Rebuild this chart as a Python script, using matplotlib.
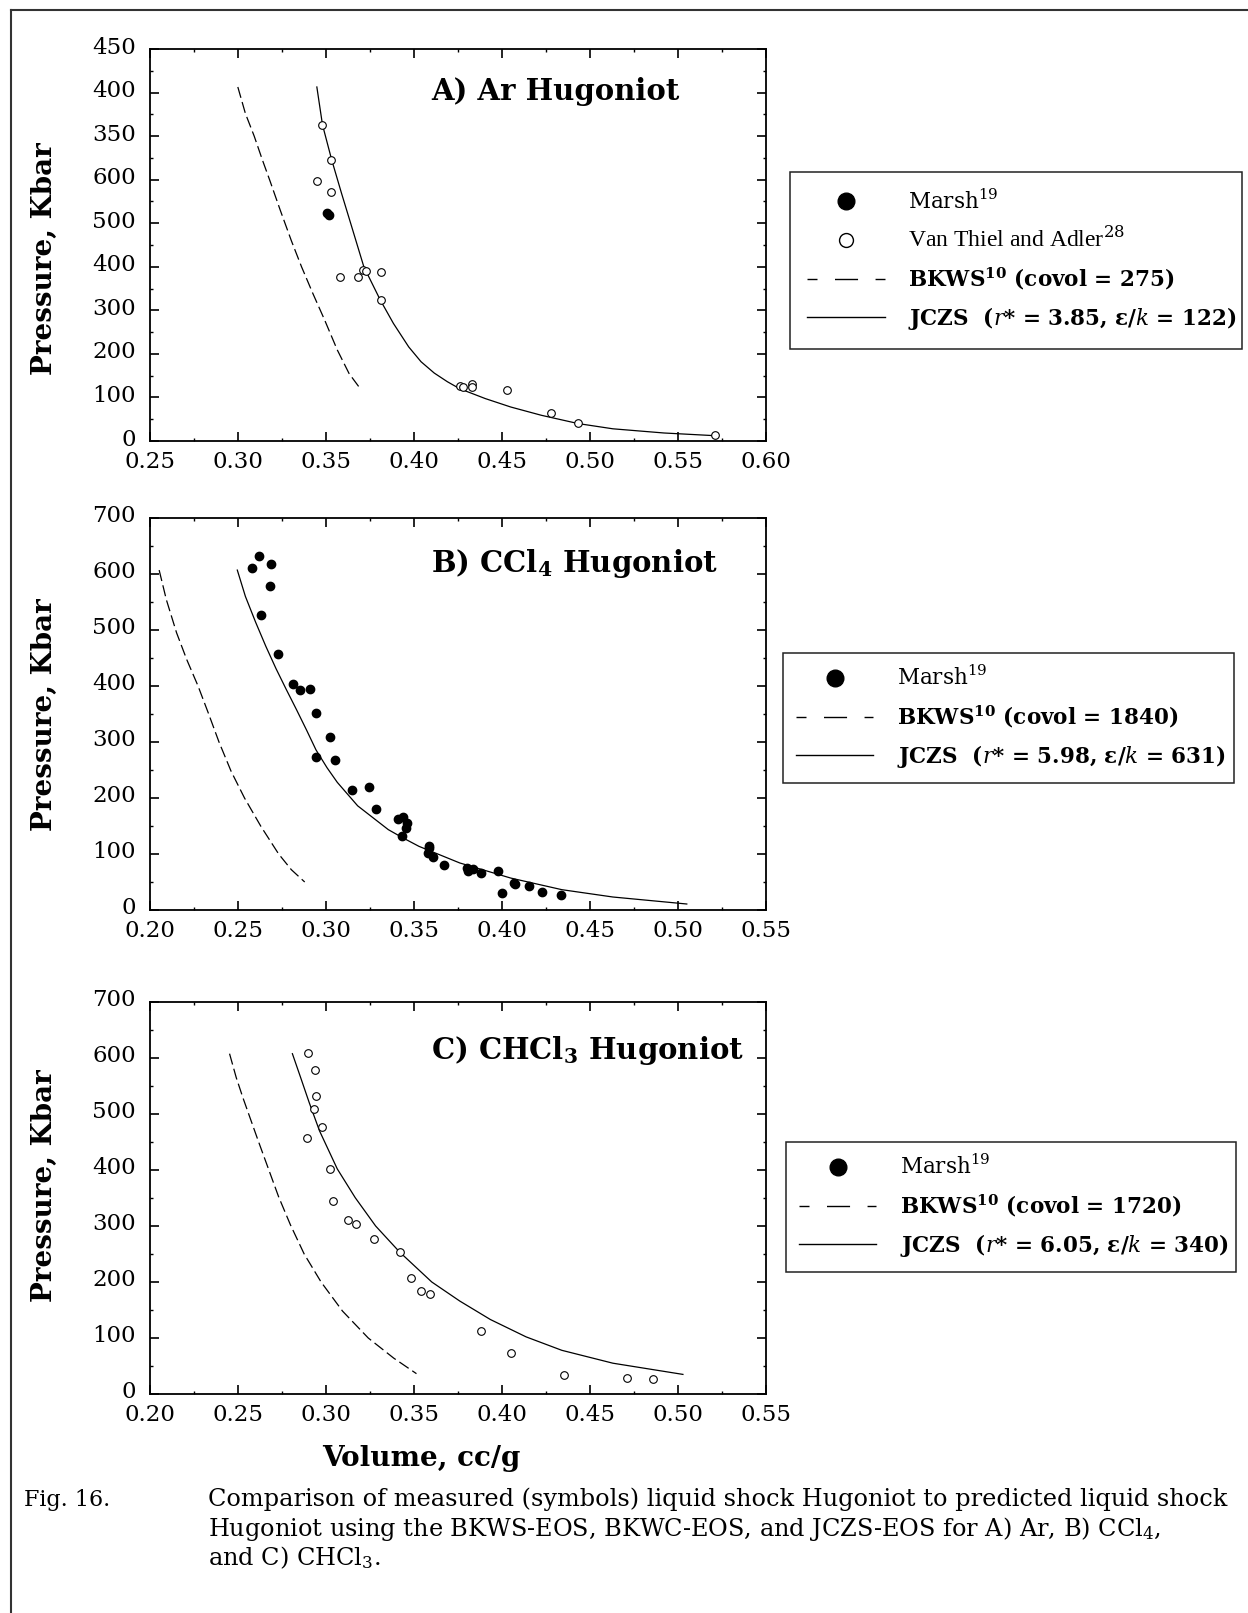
import matplotlib
matplotlib.use("Agg")
import numpy as np
import matplotlib.pyplot as plt
from matplotlib.lines import Line2D
from matplotlib.transforms import ScaledTranslation
from matplotlib.ticker import MultipleLocator, FormatStrFormatter

plt.rcParams['font.family'] = 'DejaVu Serif'
plt.rcParams['mathtext.fontset'] = 'dejavuserif'

# ---------------- A) Ar ----------------
ar_marsh_v = [0.3505, 0.3515]
ar_marsh_p = [262, 259]
ar_vta_v = [0.348, 0.353, 0.345, 0.353, 0.358, 0.368, 0.371, 0.373, 0.381, 0.381,
            0.426, 0.428, 0.433, 0.433, 0.453, 0.478, 0.493, 0.571]
ar_vta_p = [363, 323, 299, 286, 188, 188, 196, 195, 194, 162,
            63, 62, 66, 62.5, 58, 32.6, 20.7, 6.5]
ar_jczs_v = [0.3448, 0.348, 0.3532, 0.3588, 0.3646, 0.3715, 0.3808, 0.3883, 0.397,
             0.404, 0.4115, 0.419, 0.426, 0.4405, 0.455, 0.4724, 0.4933, 0.513, 0.542, 0.571]
ar_jczs_p = [406.4, 363, 323, 284.5, 246, 200, 162, 135, 108,
             91, 78, 68, 60, 48.7, 39, 29.5, 20, 14, 9.2, 6.1]
ar_bkws_v = [0.2999, 0.3042, 0.3092, 0.3138, 0.3181, 0.324, 0.3303, 0.3361, 0.3425,
             0.3492, 0.3564, 0.3631, 0.3695]
ar_bkws_p = [406.4, 376, 350, 323, 299, 265, 230, 200, 169.5, 139, 104.6, 77.5, 60]
# the original axis is labelled this way
ar_ytick_labels = ["0", "100", "200", "300", "400", "500", "600", "350", "400", "450"]

# ---------------- B) CCl4 ----------------
ccl4_marsh_v = [0.258, 0.2618, 0.2687, 0.2679, 0.263, 0.2725, 0.281, 0.2853, 0.2908, 0.2942,
                0.3024, 0.2942, 0.305, 0.3148, 0.3247, 0.3282, 0.341, 0.3438, 0.3462, 0.3453,
                0.343, 0.3583, 0.3583, 0.358, 0.361, 0.3668, 0.380, 0.3807, 0.3836, 0.388,
                0.3978, 0.400, 0.4068, 0.4076, 0.4152, 0.4227, 0.4337]
ccl4_marsh_p = [610, 633, 617, 579, 527, 458, 404, 392, 395, 351,
                309.5, 274, 268, 215, 219, 181, 162, 165.5, 155, 147,
                132, 114, 111, 102, 95, 81, 75, 69, 74, 65.5,
                70, 30, 48, 47, 42, 33, 27]
ccl4_jczs_v = [0.2496, 0.2542, 0.26, 0.2658, 0.2716, 0.2774, 0.2832, 0.289, 0.2943, 0.3006,
               0.3064, 0.318, 0.3354, 0.343, 0.3528, 0.376, 0.405, 0.434, 0.463, 0.505]
ccl4_jczs_p = [607, 560, 514, 471, 431, 394, 358, 321, 286, 254,
               228, 186, 143.5, 130, 113.7, 84, 57, 36.3, 23.2, 10.7]
ccl4_bkws_v = [0.2052, 0.2093, 0.2151, 0.2209, 0.2273, 0.2331, 0.2392, 0.2461, 0.2537,
               0.263, 0.2731, 0.2803, 0.2879]
ccl4_bkws_p = [607, 554, 495, 447, 400, 352, 300, 247.6, 200, 149.4, 100, 72, 50]

# ---------------- C) CHCl3 ----------------
chcl3_meas_v = [0.2899, 0.2937, 0.2942, 0.2934, 0.2977, 0.289, 0.3024, 0.3039, 0.3126, 0.3172,
                0.3273, 0.3418, 0.3485, 0.3537, 0.3592, 0.3883, 0.405, 0.4355, 0.4709, 0.486]
chcl3_meas_p = [609.5, 579, 533, 509.5, 477, 458, 402, 345, 310, 303,
                276, 253.5, 207, 184.5, 178.5, 113, 74, 34.5, 28.6, 26.8]
chcl3_jczs_v = [0.2809, 0.2856, 0.2905, 0.2963, 0.3064, 0.3166, 0.3282, 0.3418, 0.3601,
                0.376, 0.3934, 0.4137, 0.434, 0.463, 0.5028]
chcl3_jczs_p = [607.7, 565, 520, 470, 402, 350.6, 300, 253.6, 200, 166, 133, 102, 78, 55, 35]
chcl3_bkws_v = [0.2452, 0.249, 0.2528, 0.2563, 0.2615, 0.2673, 0.2731, 0.2798, 0.2876,
                0.2972, 0.3094, 0.324, 0.3385, 0.3514]
chcl3_bkws_p = [607.7, 565, 529, 498, 452, 402, 352, 302, 250, 200, 148, 100, 64, 36.3]

legend_a = ["Marsh$^{19}$", "Van Thiel and Adler$^{28}$",
            "BKWS$^{\\mathbf{10}}$ (covol = 275)",
            "JCZS  ($r$* = 3.85, \u03b5/$k$ = 122)"]
legend_b = ["Marsh$^{19}$", "BKWS$^{\\mathbf{10}}$ (covol = 1840)",
            "JCZS  ($r$* = 5.98, \u03b5/$k$ = 631)"]
legend_c = ["Marsh$^{19}$", "BKWS$^{\\mathbf{10}}$ (covol = 1720)",
            "JCZS  ($r$* = 6.05, \u03b5/$k$ = 340)"]

W, H = 1248, 1613
fig = plt.figure(figsize=(W / 100, H / 100), dpi=100)


def px_axes(top):
    # axes box given in pixels of the page
    return fig.add_axes([150 / W, 1 - (top + 392) / H, 616 / W, 392 / H])


def style(ax, xlim, ymax, ystep, ylabels=None):
    ax.set_xlim(*xlim)
    ax.set_ylim(0, ymax)
    ax.xaxis.set_major_locator(MultipleLocator(0.05))
    ax.xaxis.set_minor_locator(MultipleLocator(0.025))
    ax.xaxis.set_major_formatter(FormatStrFormatter('%.2f'))
    yt = np.arange(0, ymax + 1, ystep)
    if ylabels is None:
        ylabels = [str(int(v)) for v in yt]
    ax.set_yticks(yt, ylabels)
    ax.yaxis.set_minor_locator(MultipleLocator(ystep / 2))
    ax.tick_params(which='both', direction='in', top=True, right=True)
    ax.tick_params(which='major', length=6.5, width=1.2, labelsize=16.5)
    ax.tick_params(axis='x', which='major', pad=7)
    ax.tick_params(axis='y', which='major', pad=10)
    ax.tick_params(which='minor', length=2.5, width=1.0)
    for s in ax.spines.values():
        s.set_linewidth(1.3)
    # y tick labels sit a little above their ticks in the original
    up = ScaledTranslation(0, 4 / 100, fig.dpi_scale_trans)
    for t in ax.yaxis.get_major_ticks():
        t.label1.set_transform(t.label1.get_transform() + up)


line_kw = dict(color='black', lw=0.9)
dash_kw = dict(color='black', lw=0.9, linestyle=(0, (9, 3.5)))
open_kw = dict(linestyle='none', marker='o', ms=5.5, mfc='white', mec='black', mew=0.8)
fill_kw = dict(linestyle='none', marker='o', ms=6, mfc='black', mec='black')

h_fill = Line2D([], [], linestyle='none', marker='o', ms=12, color='black')
h_open = Line2D([], [], linestyle='none', marker='o', ms=10, mfc='white', mec='black', mew=1.0)
h_dash = Line2D([], [], color='black', lw=1.0, linestyle=(9.4, (16.6, 12.6)))
h_line = Line2D([], [], color='black', lw=1.0)


def add_legend(ax, handles, labels, x0, x1, y0, pad):
    leg = ax.legend(handles, labels, loc='upper left', mode='expand',
                    bbox_to_anchor=(x0 / W, 1 - y0 / H, (x1 - x0) / W, 0),
                    bbox_transform=fig.transFigure,
                    borderaxespad=0, fontsize=15.5, handlelength=3.6, handletextpad=1.1,
                    borderpad=pad, labelspacing=0.6, fancybox=False, framealpha=1,
                    edgecolor='#222222')
    leg.get_frame().set_linewidth(1.1)
    for t in leg.get_texts()[-2:]:
        t.set_fontweight('bold')
    return leg


def add_title(ax, text, ybase):
    ax.text(0.456, ybase, text, transform=ax.transAxes, fontsize=21,
            fontweight='bold', va='baseline', ha='left')


# ---- panel A
axA = px_axes(49)
axA.plot(ar_bkws_v, ar_bkws_p, **dash_kw)
axA.plot(ar_jczs_v, ar_jczs_p, **line_kw)
axA.plot(ar_vta_v, ar_vta_p, **open_kw)
axA.plot(ar_marsh_v, ar_marsh_p, **fill_kw)
style(axA, (0.25, 0.60), 450, 50, ar_ytick_labels)
add_title(axA, "A) Ar Hugoniot", 0.870)
legA = add_legend(axA, [h_fill, h_open, h_dash, h_line], legend_a, 790, 1242, 172, 0.8)
legA.get_texts()[1].set_family('Liberation Serif')
legA.get_texts()[1].set_fontsize(17)

# ---- panel B
axB = px_axes(518)
axB.plot(ccl4_bkws_v, ccl4_bkws_p, **dash_kw)
axB.plot(ccl4_jczs_v, ccl4_jczs_p, **line_kw)
axB.plot(ccl4_marsh_v, ccl4_marsh_p, **fill_kw)
style(axB, (0.20, 0.55), 700, 100)
add_title(axB, "B) CCl$_\\mathbf{4}$ Hugoniot", 0.861)
add_legend(axB, [h_fill, h_dash, h_line], legend_b, 783, 1234, 653, 0.6)

# ---- panel C
axC = px_axes(1002)
axC.plot(chcl3_bkws_v, chcl3_bkws_p, **dash_kw)
axC.plot(chcl3_jczs_v, chcl3_jczs_p, **line_kw)
axC.plot(chcl3_meas_v, chcl3_meas_p, **open_kw)
style(axC, (0.20, 0.55), 700, 100)
add_title(axC, "C) CHCl$_\\mathbf{3}$ Hugoniot", 0.855)
add_legend(axC, [h_fill, h_dash, h_line], legend_c, 786, 1236, 1142, 0.6)

# y labels
for yc in (259, 715, 1186):
    fig.text(44.5 / W, 1 - yc / H, "Pressure, Kbar", rotation=90, ha='center', va='center',
             fontsize=20, fontweight='bold')

fig.text(421 / W, 1 - 1466 / H, "Volume, cc/g", ha='center', va='baseline',
         fontsize=20, fontweight='bold')

# caption
cap_lines = ["Comparison of measured (symbols) liquid shock Hugoniot to predicted liquid shock",
             "Hugoniot using the BKWS-EOS, BKWC-EOS, and JCZS-EOS for A) Ar, B) CCl$_4$,",
             "and C) CHCl$_3$."]
fig.text(24 / W, 1 - 1506 / H, "Fig. 16.", fontsize=16, va='baseline')
for line, yb in zip(cap_lines, (1506, 1536, 1565)):
    fig.text(208 / W, 1 - yb / H, line, fontsize=17.3, va='baseline')

# page frame (top and left edges)
fig.add_artist(Line2D([11 / W, 1], [1 - 10 / H, 1 - 10 / H], transform=fig.transFigure,
                      color='#333333', lw=1.5))
fig.add_artist(Line2D([11 / W, 11 / W], [1 - 10 / H, 0], transform=fig.transFigure,
                      color='#333333', lw=1.5))

fig.savefig("out.png", dpi=100)
